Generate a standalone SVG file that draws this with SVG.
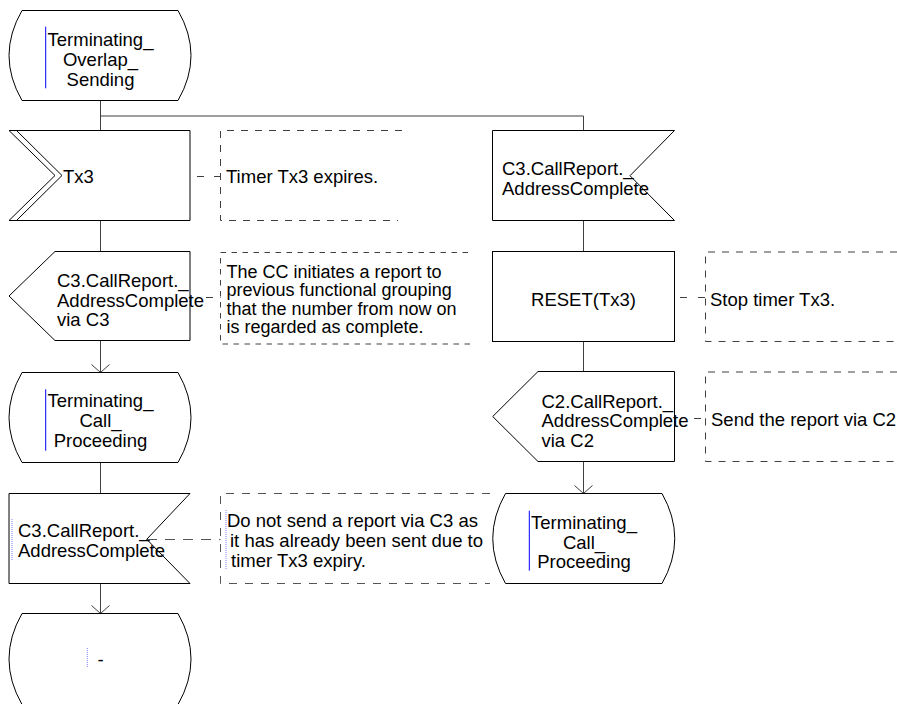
<svg xmlns="http://www.w3.org/2000/svg" width="897" height="704" viewBox="0 0 897 704">
<style>
 .shape{fill:#fff;stroke:#000;stroke-width:1}
 .line{fill:none;stroke:#000;stroke-width:1}
 .flow{fill:none;stroke:#404040;stroke-width:1}
 .cmt{fill:none;stroke:#404040;stroke-width:1;stroke-dasharray:7 7}
 .cmt2{fill:none;stroke:#404040;stroke-width:1;stroke-dasharray:5.5 5.5}
 .cmt3{fill:none;stroke:#555;stroke-width:1;stroke-dasharray:8 8}
 .link{fill:none;stroke:#404040;stroke-width:1;stroke-dasharray:7 9}
 text{font-family:"Liberation Sans",Arial,sans-serif;font-size:18.5px;fill:#000}
 .small{font-size:18px}
 .c{text-anchor:middle}
 .cursor{stroke:#0000ff;stroke-width:1}
 .dot{stroke:#8080ff;stroke-width:1;stroke-dasharray:1 1}
</style>
<defs>
 <marker id="arr" markerUnits="userSpaceOnUse" markerWidth="20" markerHeight="20" viewBox="-10 -10 20 20" refX="0" refY="0" orient="auto" overflow="visible">
  <path d="M-8,-9 L0,0 L-8,9" fill="none" stroke="#404040" stroke-width="1"/>
 </marker>
</defs>

<g id="connectors">
 <path class="flow" d="M100.5,100.5 V130.5"/>
 <path class="flow" d="M100.5,116 H583.5 V130.5"/>
 <path class="flow" d="M100.5,220.5 V251.5"/>
 <path class="flow" d="M100.5,340.5 V372.5" marker-end="url(#arr)"/>
 <path class="flow" d="M100.5,462.5 V493.5"/>
 <path class="flow" d="M100.5,583.5 V613.5" marker-end="url(#arr)"/>
 <path class="flow" d="M583.5,220.5 V251.5"/>
 <path class="flow" d="M583.5,341.5 V371.5"/>
 <path class="flow" d="M583.5,461.5 V493.5" marker-end="url(#arr)"/>
 <path class="link" d="M197,176.5 H220.5" style="stroke-dasharray:7 10"/>
 <path class="link" d="M206,297.5 H220.5" style="stroke-dasharray:7 7"/>
 <path class="link" d="M680,297.5 H705.5" style="stroke-dasharray:7 11"/>
 <path class="link" d="M694,418.5 H705.5" style="stroke-dasharray:7 4"/>
 <path class="link" d="M147,539.5 H220.5" style="stroke-dasharray:10 8;stroke:#555"/>
</g>

<g id="state_overlap_sending">
 <path class="shape" d="M22,10.5 H178 Q204,55.5 178,100.5 H22 Q-4,55.5 22,10.5 Z"/>
 <line class="cursor" x1="45.7" y1="26.7" x2="45.7" y2="88.3"/>
 <text class="c" x="100.5" y="45.5">Terminating_</text>
 <text class="c" x="100.5" y="65.5">Overlap_</text>
 <text class="c" x="100.5" y="85.5">Sending</text>
</g>

<g id="timer_tx3">
 <path class="shape" d="M9,130.5 H190 V220.5 H9 L55,175.5 Z"/>
 <path class="line" d="M16.5,130.5 L62,175.5 L16.5,220.5"/>
 <text x="63" y="183">Tx3</text>
</g>

<g id="comment_tx3">
 <path class="cmt" d="M402,130.5 H220.5 V220.5 H398"/>
 <text x="226" y="183">Timer Tx3 expires.</text>
</g>

<g id="input_c3_addresscomplete_right">
 <path class="shape" d="M492.5,130.5 H674.5 L630,175.7 L674.5,220.5 H492.5 Z"/>
 <text x="502" y="175">C3.CallReport._</text>
 <text x="502" y="195">AddressComplete</text>
</g>

<g id="output_c3">
 <path class="shape" d="M55,251.5 H190 V340.5 H55 L9,296 Z"/>
 <text x="57" y="287">C3.CallReport._</text>
 <text x="57" y="306.5">AddressComplete</text>
 <text x="57" y="326">via C3</text>
</g>

<g id="comment_output_c3">
 <path class="cmt2" d="M468,252.5 H220.5 V344 H470"/>
 <text class="small" x="226.5" y="277.8">The CC initiates a report to</text>
 <text class="small" x="226.5" y="296.3">previous functional grouping</text>
 <text class="small" x="226.5" y="314.8">that the number from now on</text>
 <text class="small" x="226.5" y="333.3">is regarded as complete.</text>
</g>

<g id="task_reset">
 <rect class="shape" x="492.5" y="251.5" width="182" height="90"/>
 <text class="c" x="583.5" y="306">RESET(Tx3)</text>
</g>

<g id="comment_reset">
 <path class="cmt" d="M897,252 H705.5 V341.5 H897"/>
 <text x="710" y="306">Stop timer Tx3.</text>
</g>

<g id="state_call_proceeding_left">
 <path class="shape" d="M22,372.5 H178 Q204,417.5 178,462.5 H22 Q-4,417.5 22,372.5 Z"/>
 <line class="cursor" x1="45.7" y1="389.3" x2="45.7" y2="450.7"/>
 <text class="c" x="100.5" y="407">Terminating_</text>
 <text class="c" x="100.5" y="427">Call_</text>
 <text class="c" x="100.5" y="446.5">Proceeding</text>
</g>

<g id="output_c2">
 <path class="shape" d="M538,371.5 H674.5 V461.5 H538 L492.7,416.5 Z"/>
 <text x="541.5" y="407.5">C2.CallReport._</text>
 <text x="541.5" y="427">AddressComplete</text>
 <text x="541.5" y="446.5">via C2</text>
</g>

<g id="comment_output_c2">
 <path class="cmt" d="M897,372 H705.5 V461.5 H897"/>
 <text x="711" y="426">Send the report via C2</text>
</g>

<g id="input_c3_addresscomplete_left">
 <path class="shape" d="M9,493.5 H190 L146.7,539.3 L190,583.5 H9 Z"/>
 <line class="dot" x1="12" y1="519" x2="12" y2="560"/>
 <text x="18" y="537">C3.CallReport._</text>
 <text x="18" y="557">AddressComplete</text>
</g>

<g id="comment_input_c3">
 <path class="cmt3" d="M490,493.5 H220.5 V583.5 H490"/>
 <line class="dot" x1="226" y1="510" x2="226" y2="569"/>
 <text x="227" y="527">Do not send a report via C3 as</text>
 <text x="230" y="547">it has already been sent due to</text>
 <text x="231" y="567">timer Tx3 expiry.</text>
</g>

<g id="state_call_proceeding_right">
 <path class="shape" d="M505.5,493.5 H662 Q687.5,538.5 662,583.5 H505.5 Q480,538.5 505.5,493.5 Z"/>
 <line class="cursor" x1="529.3" y1="510.7" x2="529.3" y2="570.7"/>
 <text class="c" x="584" y="528.5">Terminating_</text>
 <text class="c" x="584" y="548.5">Call_</text>
 <text class="c" x="584" y="568">Proceeding</text>
</g>

<g id="state_dash">
 <path class="shape" d="M22,613.5 H178 Q204,659 178,704.5 H22 Q-4,659 22,613.5 Z"/>
 <line class="dot" x1="87.3" y1="648" x2="87.3" y2="668"/>
 <text class="c" x="100.5" y="666">-</text>
</g>
</svg>
